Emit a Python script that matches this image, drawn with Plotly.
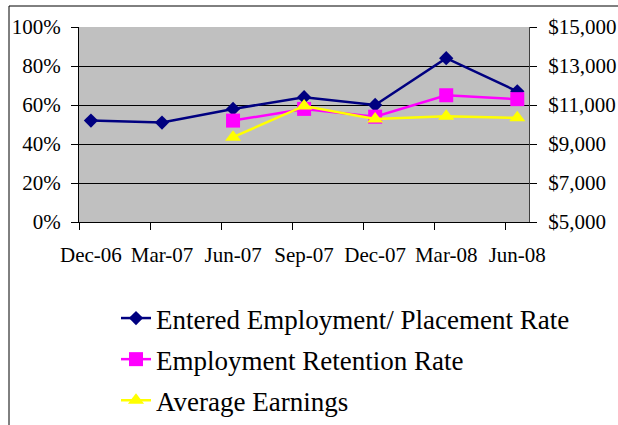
import plotly.graph_objects as go

categories = ["Dec-06", "Mar-07", "Jun-07", "Sep-07", "Dec-07", "Mar-08", "Jun-08"]
entered_rate = [0.52, 0.51, 0.58, 0.64, 0.60, 0.84, 0.67]
retention_rate = [None, None, 0.52, 0.58, 0.54, 0.65, 0.63]
avg_earnings = [None, None, 9350, 10950, 10280, 10420, 10340]

left_ticks = [0, 0.2, 0.4, 0.6, 0.8, 1.0]
right_ticks = [5000, 7000, 9000, 11000, 13000, 15000]

W, H = 618, 425
L, R, T, B = 79, 89, 27, 203
xpos = list(range(len(categories)))
x_lo, x_hi = -0.168, len(categories) - 1 + 0.165
bounds = [x_lo + k for k in range(len(categories))]

FONT = "Liberation Serif"

fig = go.Figure()
fig.add_trace(go.Scatter(
    x=xpos, y=entered_rate, name="Entered Employment/ Placement Rate",
    mode="lines+markers", legendgroup="a",
    line=dict(color="#000080", width=2.5),
    marker=dict(symbol="diamond", size=11, color="#000080"),
))
fig.add_trace(go.Scatter(
    x=xpos, y=retention_rate, name="Employment Retention Rate",
    mode="lines+markers", legendgroup="b",
    line=dict(color="#FF00FF", width=2.5),
    marker=dict(symbol="square", size=14, color="#FF00FF"),
))
fig.add_trace(go.Scatter(
    x=xpos, y=avg_earnings, name="Average Earnings", yaxis="y2",
    mode="lines+markers", legendgroup="c",
    line=dict(color="#FFFF00", width=2.5),
    marker=dict(symbol="triangle-up", size=14, color="#FFFF00"),
))

# chart frame (only top and left edges fall inside the page)
pw, ph = W - L - R, H - T - B
fig.add_shape(type="rect", xref="paper", yref="paper",
              x0=(9 - L) / pw, x1=(W + 20 - L) / pw,
              y0=-(B + 20) / ph, y1=(H - B - 6) / ph,
              line=dict(color="black", width=1), fillcolor="rgba(0,0,0,0)", layer="below")

fig.update_layout(
    template="none",
    width=W, height=H,
    margin=dict(l=L, r=R, t=T, b=B, pad=0, autoexpand=False),
    paper_bgcolor="white", plot_bgcolor="#C0C0C0",
    font=dict(family=FONT, size=21, color="black"),
    showlegend=True,
    legend=dict(
        x=(116 - L) / pw, xanchor="left",
        y=(H - B - 294) / ph, yanchor="top",
        font=dict(family=FONT, size=27, color="black"),
        tracegroupgap=3, bgcolor="rgba(0,0,0,0)",
    ),
    xaxis=dict(
        range=[x_lo, x_hi], tickvals=xpos, ticktext=categories,
        ticks="", showgrid=False, zeroline=False, automargin=False,
        showline=True, linecolor="black", linewidth=1,
        ticklabelstandoff=14,
        minor=dict(tickmode="array", tickvals=bounds, ticks="outside",
                   ticklen=7, tickcolor="black", showgrid=False),
    ),
    yaxis=dict(
        range=[0, 1], tickvals=left_ticks, tickformat=".0%",
        ticks="outside", ticklen=7, tickcolor="black", automargin=False,
        showgrid=True, gridcolor="black", gridwidth=1,
        zeroline=False, showline=True, linecolor="black", linewidth=1,
        ticklabelstandoff=6,
    ),
    yaxis2=dict(
        range=[5000, 15000], tickvals=right_ticks, tickformat="$,.0f",
        overlaying="y", side="right", automargin=False,
        ticks="outside", ticklen=7, tickcolor="black",
        showgrid=False, zeroline=False,
        showline=True, linecolor="#404040", linewidth=1,
        ticklabelstandoff=7,
    ),
)
fig.write_html("out.html", config={"displayModeBar": False},
               post_script="document.body.style.margin='0';")
